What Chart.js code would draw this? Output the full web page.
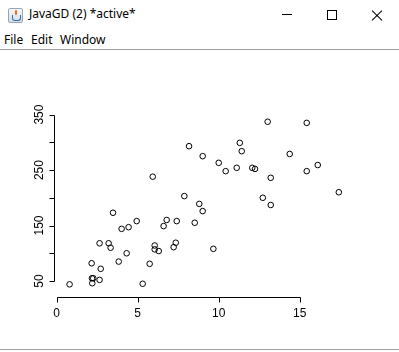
<!DOCTYPE html>
<html>
<head>
<meta charset="utf-8">
<script src="https://cdn.jsdelivr.net/npm/chart.js@4.4.0/dist/chart.umd.min.js"></script>
<style>
    html, body { margin: 0; padding: 0; background: #fff; }
    body { width: 399px; height: 352px; position: relative; overflow: hidden; font-family: "Noto Sans", "Open Sans", sans-serif; }
    .titlebar { position: absolute; left: 0; top: 0; width: 399px; height: 28px; }
    .title { position: absolute; left: 29px; top: 5px; font-size: 12px; color: #000; }
    .icon { position: absolute; left: 8px; top: 8px; width: 15px; height: 15px; border: 1px solid #9aa6b4; border-radius: 2px; background: linear-gradient(#f4f6f9, #d8dee6); box-sizing: border-box; }
    .icon::before { content: ""; position: absolute; left: 3px; top: 6px; width: 7px; height: 5px; border: 1px solid #2d6fb0; border-top: none; border-radius: 0 0 3px 3px; }
    .icon::after { content: ""; position: absolute; left: 6px; top: 1px; width: 2px; height: 5px; background: #e07020; border-radius: 1px; }
    .win-min { position: absolute; left: 282px; top: 14px; width: 10px; height: 1px; background: #000; }
    .win-max { position: absolute; left: 327px; top: 10px; width: 10px; height: 10px; border: 1px solid #000; box-sizing: border-box; }
    .win-close { position: absolute; left: 371px; top: 9px; width: 12px; height: 12px; }
    .win-close::before, .win-close::after { content: ""; position: absolute; left: -1px; top: 5.5px; width: 14px; height: 1px; background: #000; }
    .win-close::before { transform: rotate(45deg); }
    .win-close::after { transform: rotate(-45deg); }
    .menubar { position: absolute; left: 0; top: 31px; font-size: 12px; color: #000; }
    .menubar span { position: absolute; top: 0; white-space: nowrap; }
    .sep { position: absolute; left: 0; width: 399px; height: 1px; background: #a0a0a0; }
    .plot { position: absolute; left: 0; top: 51px; width: 399px; height: 297px; }
</style>
</head>
<body>
<div class="titlebar">
    <div class="icon"></div>
    <div class="title">JavaGD (2) *active*</div>
    <div class="win-min"></div>
    <div class="win-max"></div>
    <div class="win-close"></div>
</div>
<div class="menubar">
    <span style="left:4px">File</span>
    <span style="left:31px">Edit</span>
    <span style="left:60px">Window</span>
</div>
<div class="sep" style="top:49px"></div>
<div class="plot"><canvas id="scatterChart" width="399" height="297"></canvas></div>
<div class="sep" style="top:349px"></div>

<script>
// data
const xVals = [0.8, 2.16, 2.18, 2.26, 2.2, 2.65, 2.72, 2.65, 3.21, 3.33,
    3.48, 3.83, 4.01, 4.32, 4.44, 4.94, 5.31, 5.74, 6.05, 6.05,
    6.3, 6.6, 6.79, 7.22, 7.35, 7.41, 7.88, 8.52, 8.8, 9.01,
    9.67, 12.72, 13.21, 17.41, 8.17, 9.01, 10.0, 10.43, 11.11, 11.3,
    11.42, 12.07, 12.24, 13.02, 13.21, 14.38, 15.43, 15.43, 16.11, 5.93];
const yVals = [44, 82, 55, 55, 46, 52, 72, 118, 118, 110,
    173, 85, 144, 100, 147, 158, 45, 81, 114, 107,
    104, 149, 160, 111, 119, 158, 203, 155, 189, 176,
    108, 200, 187, 210, 293, 275, 263, 248, 254, 299,
    284, 254, 252, 337, 236, 279, 335, 248, 259, 238];

const xTicks = [0, 5, 10, 15];
const yTicks = [50, 100, 150, 200, 250, 300, 350];
const yLabels = [50, 150, 250, 350];

// ================================
// R-style axes drawn from the chart scales
// ================================
const rAxes = {
    id: 'rAxes',
    afterDraw(chart) {
        const ctx = chart.ctx;
        const xs = chart.scales.x;
        const ys = chart.scales.y;
        const area = chart.chartArea;
        const tick = 5;

        ctx.save();
        ctx.strokeStyle = '#000';
        ctx.fillStyle = '#000';
        ctx.lineWidth = 1;
        ctx.font = '12px "Liberation Sans", Arial, sans-serif';

        // x axis
        const axY = Math.round(area.bottom + 6) + 0.5;
        const x0 = Math.round(xs.getPixelForValue(xTicks[0])) + 0.5;
        const x1 = Math.round(xs.getPixelForValue(xTicks[xTicks.length - 1])) + 0.5;
        ctx.beginPath();
        ctx.moveTo(x0, axY);
        ctx.lineTo(x1, axY);
        xTicks.forEach(v => {
            const px = Math.round(xs.getPixelForValue(v)) + 0.5;
            ctx.moveTo(px, axY);
            ctx.lineTo(px, axY + tick);
        });
        ctx.stroke();
        ctx.textAlign = 'center';
        ctx.textBaseline = 'middle';
        xTicks.forEach(v => ctx.fillText(String(v), xs.getPixelForValue(v), axY + 16));

        // y axis
        const axX = Math.round(area.left) - 0.5;
        const y0 = Math.round(ys.getPixelForValue(yTicks[0])) + 0.5;
        const y1 = Math.round(ys.getPixelForValue(yTicks[yTicks.length - 1])) + 0.5;
        ctx.beginPath();
        ctx.moveTo(axX, y0);
        ctx.lineTo(axX, y1);
        yTicks.forEach(v => {
            const py = Math.round(ys.getPixelForValue(v)) + 0.5;
            ctx.moveTo(axX, py);
            ctx.lineTo(axX - tick, py);
        });
        ctx.stroke();
        yLabels.forEach(v => {
            ctx.save();
            ctx.translate(axX - 15, ys.getPixelForValue(v));
            ctx.rotate(-Math.PI / 2);
            ctx.fillText(String(v), 0, 0);
            ctx.restore();
        });
        ctx.restore();
    }
};

document.addEventListener('DOMContentLoaded', function () {
    const ctx = document.getElementById('scatterChart').getContext('2d');
    new Chart(ctx, {
        type: 'scatter',
        data: {
            datasets: [{
                data: xVals.map((x, i) => ({ x: x, y: yVals[i] })),
                borderColor: '#000',
                backgroundColor: 'rgba(0,0,0,0)',
                borderWidth: 1,
                pointRadius: 2.8,
                pointStyle: 'circle',
                clip: false
            }]
        },
        options: {
            responsive: false,
            animation: false,
            events: [],
            layout: { autoPadding: false, padding: { left: 55, right: 49, top: 63, bottom: 57 } },
            plugins: { legend: { display: false }, tooltip: { enabled: false } },
            scales: {
                x: { type: 'linear', min: -0.1, max: 18.1, display: false },
                y: { type: 'linear', min: 32, max: 351, display: false }
            }
        },
        plugins: [rAxes]
    });
});
</script>
</body>
</html>
